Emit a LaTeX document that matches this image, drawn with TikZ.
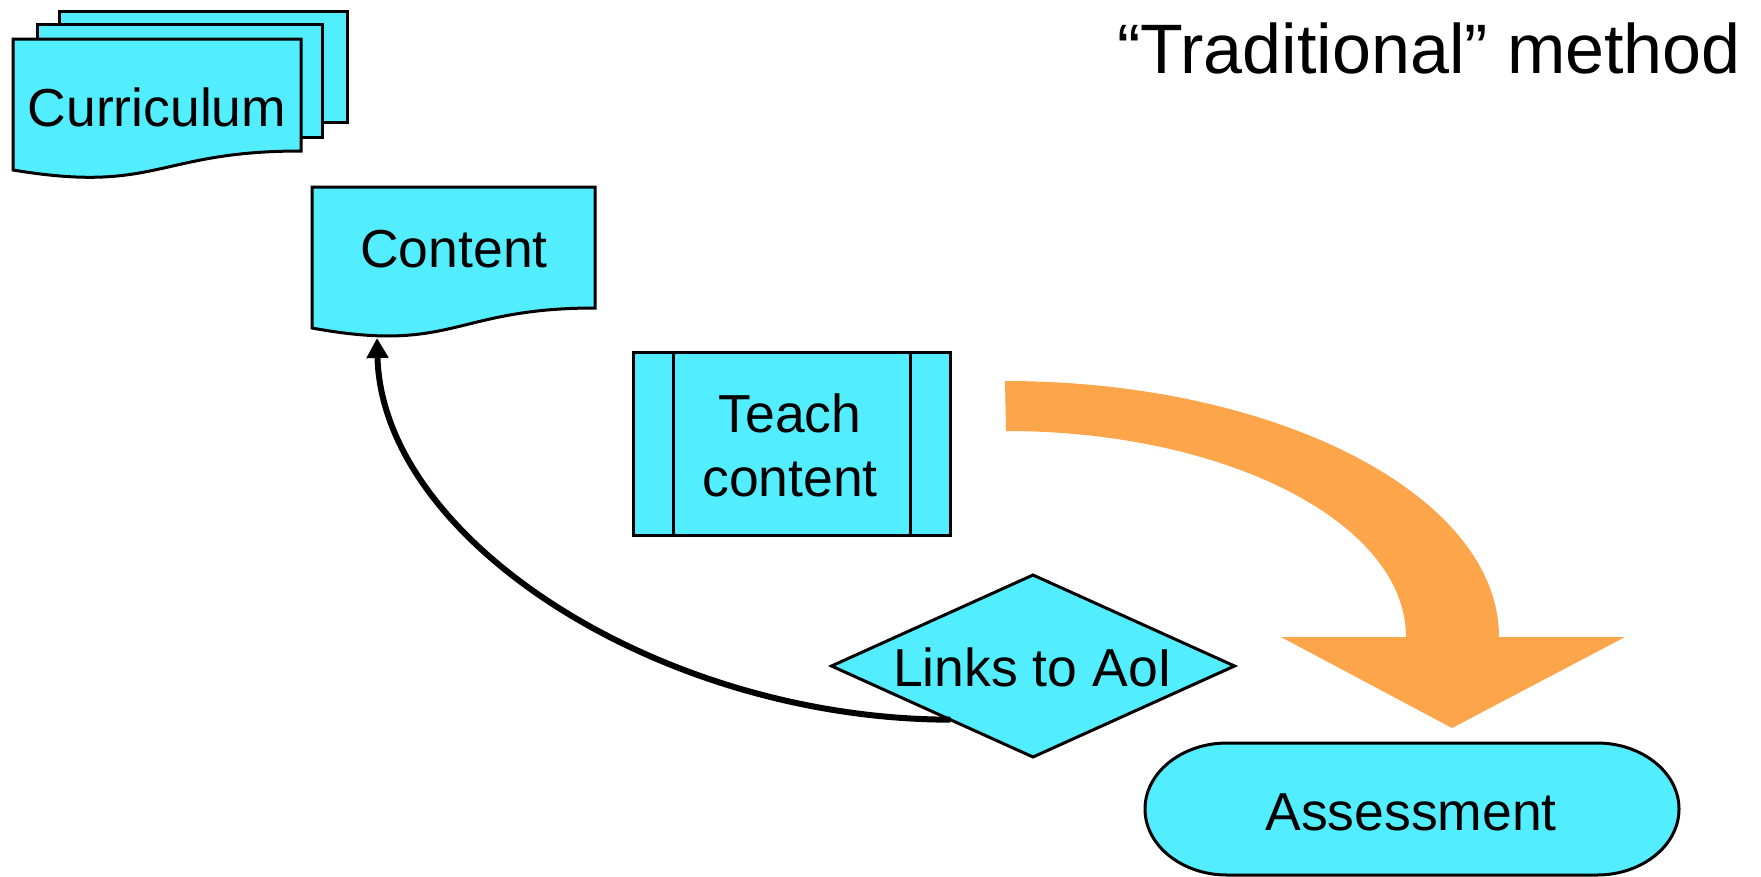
\documentclass[tikz,border=0pt]{standalone}
\usepackage{fontspec}
\setmainfont{Liberation Sans}
\usetikzlibrary{arrows.meta,shapes.geometric}
\definecolor{boxcyan}{RGB}{82,238,255}
\definecolor{flowarrow}{RGB}{253,165,75}

\begin{document}
\begin{tikzpicture}[x=1pt,y=-1pt,
  shapeline/.style={draw=black, line width=3pt, fill=boxcyan, line join=miter},
  boxlabel/.style={inner sep=0pt, anchor=base, font=\fontsize{53.5}{64}\selectfont},
]
\useasboundingbox (0,0) rectangle (1761,876);

% title
\node[inner sep=0pt, anchor=base, font=\fontsize{70}{80}\selectfont] (title) at (1429,73) {“Traditional” method};

% stack of documents: Curriculum
\path[shapeline] (59,11) rectangle (347,122);
\path[shapeline] (37,24) rectangle (322,137);
\path[shapeline] (13,39) -- (301,39) -- (301,151)
  .. controls (157,151) and (157,194) .. (13,170) -- cycle;
\node[boxlabel] (curriculum) at (157,126) {Curriculum};

% single document: Content
\path[shapeline] (312,187) -- (595,187) -- (595,308)
  .. controls (453.5,308) and (453.5,354) .. (312,328) -- cycle;
\node[boxlabel] (content) at (454,267) {Content};
\coordinate (contenttip) at (377,338);

% predefined process: Teach content
\node[shapeline, rectangle, minimum width=317pt, minimum height=183pt,
      inner sep=0pt, outer sep=0pt] (teach) at (791.5,443.5) {};
\draw[line width=3pt] ([xshift=40pt]teach.north west) -- ([xshift=40pt]teach.south west);
\draw[line width=3pt] ([xshift=-40pt]teach.north east) -- ([xshift=-40pt]teach.south east);
\node[boxlabel] (teachtxt) at (790,432)
  {\begin{tabular}[t]{@{}c@{}}Teach\\content\end{tabular}};

% decision: Links to AoI
\node[shapeline, diamond, minimum width=403pt, minimum height=182pt,
      inner sep=0pt, outer sep=0pt] (links) at (1033,666) {};
\node[boxlabel] (linkstxt) at (1033,686) {Links to AoI};

% terminator: Assessment
\path[shapeline] (1227,743) -- (1597,743)
  .. controls (1642,743) and (1679,772.5) .. (1679,809)
  .. controls (1679,845.5) and (1642,875) .. (1597,875) -- (1227,875)
  .. controls (1182,875) and (1145,845.5) .. (1145,809)
  .. controls (1145,772.5) and (1182,743) .. (1227,743) -- cycle;
\node[boxlabel] (assess) at (1411,830) {Assessment};

% curved block arrow towards Assessment
\fill[flowarrow] (1005,381) .. controls (1278,381) and (1499,496) .. (1499,637)
  -- (1625,637) -- (1452,728) -- (1281,637) -- (1406,637)
  .. controls (1406,523) and (1227,431) .. (1006,431) -- cycle;

% feedback connector back to Content
\draw[line width=6pt, -{Triangle[length=20pt,width=21pt]}]
  (links.213) .. controls (660,719) and (382,540) .. (contenttip);
\end{tikzpicture}
\end{document}
